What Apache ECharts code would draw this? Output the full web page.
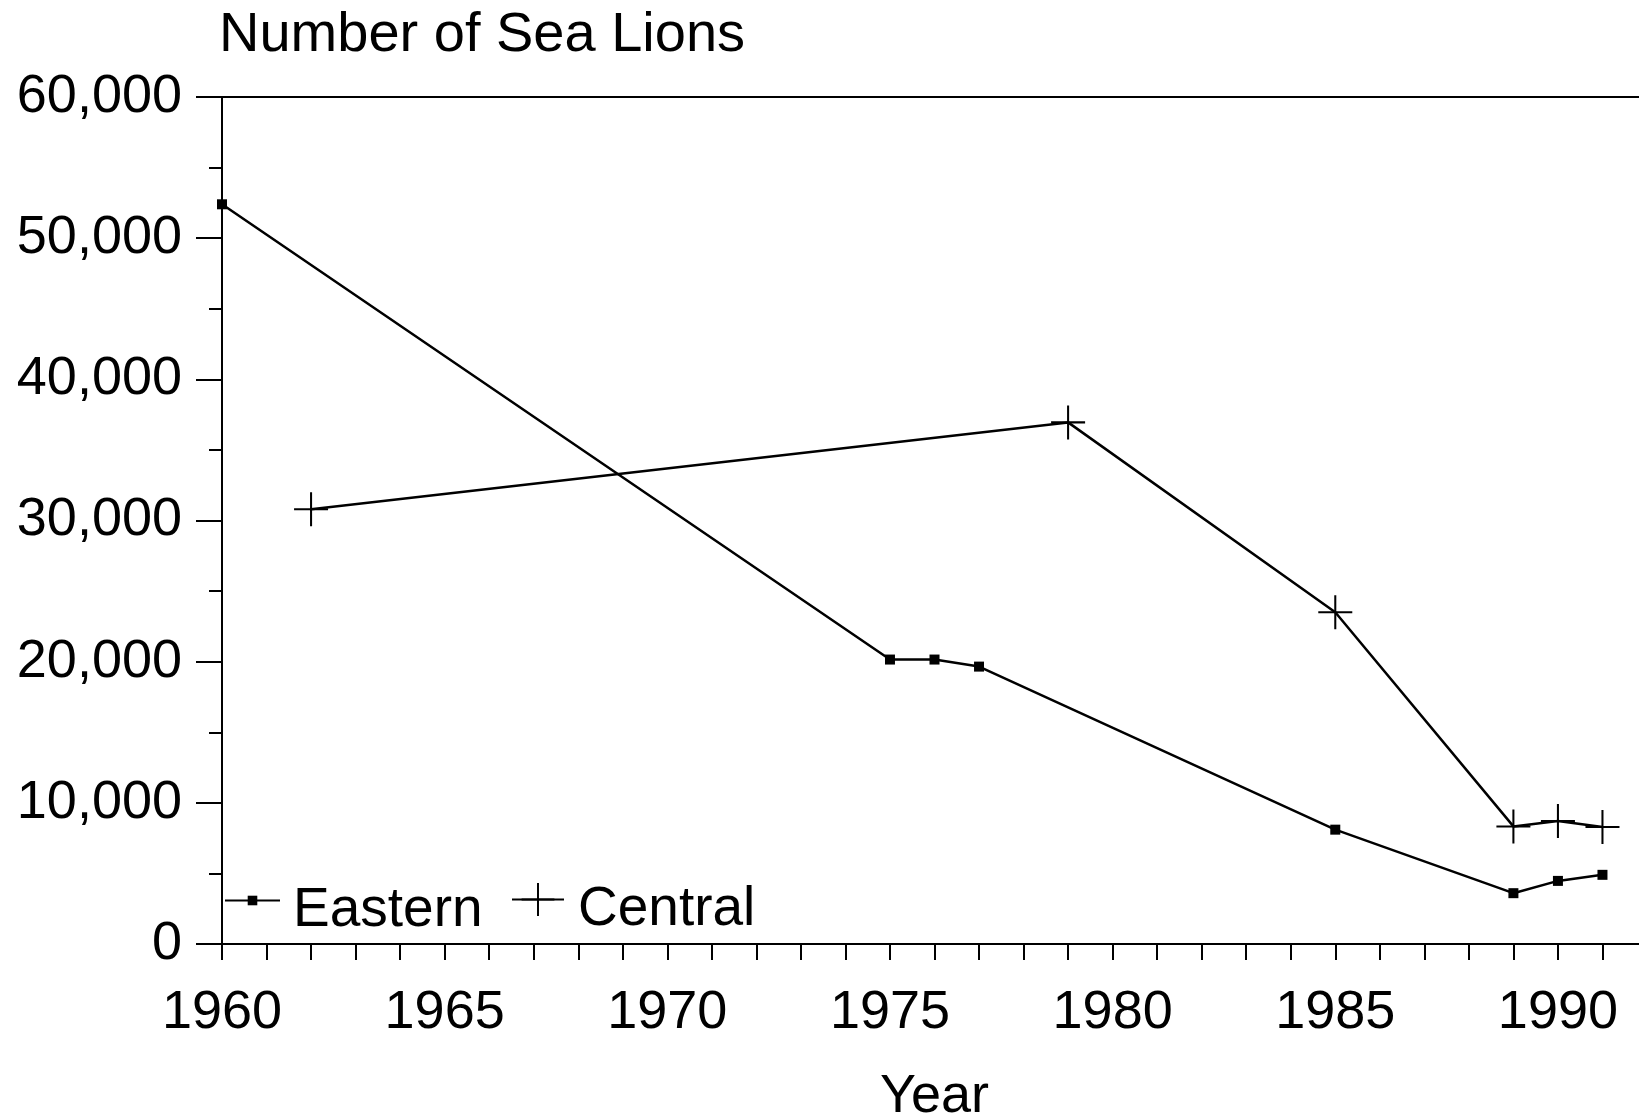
<!DOCTYPE html>
<html>
<head>
<meta charset="utf-8">
<title>Number of Sea Lions</title>
<script src="https://cdn.jsdelivr.net/npm/echarts@6/dist/echarts.min.js"></script>
<style>
  html, body { margin: 0; padding: 0; background: #fff; }
  #main { width: 1639px; height: 1118px; }
</style>
</head>
<body>
<div id="main"></div>
<script>
// tick labels
var yearLabels = [1960, 1965, 1970, 1975, 1980, 1985, 1990];
var countTicks = [0, 10000, 20000, 30000, 40000, 50000, 60000];

// Eastern stock
var easternYears = [1960, 1975, 1976, 1977, 1985, 1989, 1990, 1991];
var easternCounts = [52400, 20150, 20150, 19650, 8100, 3600, 4470, 4900];

// Central stock
var centralYears = [1962, 1979, 1985, 1989, 1990, 1991];
var centralCounts = [30800, 36950, 23500, 8330, 8720, 8290];

var FONT = "'Liberation Sans', Arial, sans-serif";
// plus sign drawn as two thin bars
var PLUS = "path://M0,9.4 L20,9.4 L20,10.6 L0,10.6 Z M9.4,0 L10.6,0 L10.6,20 L9.4,20 Z";

function pairs(xs, ys) {
  var out = [];
  for (var i = 0; i < xs.length; i++) {
    out.push([xs[i], ys[i]]);
  }
  return out;
}

// legend text sits a bit lower than its icon: blank first line with a small line height
function lowerName(name) {
  return "\n" + name;
}

var myChart = echarts.init(document.getElementById("main"));
var option = {
  animation: false,
  backgroundColor: "#fff",
  title: {
    text: "Number of Sea Lions",
    left: 219,
    top: 8,
    padding: 0,
    textStyle: { fontFamily: FONT, fontSize: 56, fontWeight: "normal", color: "#000" }
  },
  legend: [
    {
      data: ["Eastern"],
      left: 224,
      top: 863,
      padding: 0,
      selectedMode: false,
      itemWidth: 55,
      itemHeight: 12,
      formatter: lowerName,
      textStyle: { fontFamily: FONT, fontSize: 55, lineHeight: 20, color: "#000", padding: [0, 0, 0, 8] }
    },
    {
      data: ["Central"],
      left: 511,
      top: 862,
      padding: 0,
      selectedMode: false,
      itemWidth: 52,
      itemHeight: 41,
      formatter: lowerName,
      textStyle: { fontFamily: FONT, fontSize: 55, lineHeight: 20, color: "#000", padding: [0, 0, 0, 9] }
    }
  ],
  grid: {
    show: true,
    borderColor: "#000",
    borderWidth: 2,
    outerBoundsMode: "none",
    containLabel: false,
    left: 222,
    top: 97,
    right: -8,
    bottom: 174
  },
  xAxis: {
    type: "value",
    min: 1960,
    max: 1992,
    interval: 1,
    name: "Year",
    nameLocation: "middle",
    nameGap: 126,
    nameTextStyle: { fontFamily: FONT, fontSize: 54, color: "#000" },
    axisLine: { lineStyle: { color: "#000", width: 2 } },
    axisTick: { length: 16, lineStyle: { color: "#000", width: 2 } },
    axisLabel: {
      margin: 42,
      fontFamily: FONT,
      fontSize: 54,
      color: "#000",
      formatter: function (v) {
        return yearLabels.indexOf(v) >= 0 ? String(v) : "";
      }
    },
    splitLine: { show: false }
  },
  yAxis: {
    type: "value",
    min: countTicks[0],
    max: countTicks[countTicks.length - 1],
    interval: countTicks[1] - countTicks[0],
    axisLine: { show: true, lineStyle: { color: "#000", width: 2 } },
    axisTick: { show: true, length: 26, lineStyle: { color: "#000", width: 2 } },
    minorTick: { show: true, splitNumber: 2, length: 13, lineStyle: { color: "#000", width: 2 } },
    axisLabel: {
      margin: 40,
      fontFamily: FONT,
      fontSize: 54,
      color: "#000",
      formatter: function (v) {
        return echarts.format.addCommas(v);
      }
    },
    splitLine: { show: false }
  },
  series: [
    {
      name: "Eastern",
      type: "line",
      clip: false,
      data: pairs(easternYears, easternCounts),
      symbol: "rect",
      symbolSize: 10,
      lineStyle: { color: "#000", width: 2.5 },
      itemStyle: { color: "#000" }
    },
    {
      name: "Central",
      type: "line",
      clip: false,
      data: pairs(centralYears, centralCounts),
      symbol: PLUS,
      symbolSize: 34,
      lineStyle: { color: "#000", width: 2.5 },
      itemStyle: { color: "#000" }
    }
  ]
};
if (option && typeof option === "object") {
  myChart.setOption(option);
}
</script>
</body>
</html>
